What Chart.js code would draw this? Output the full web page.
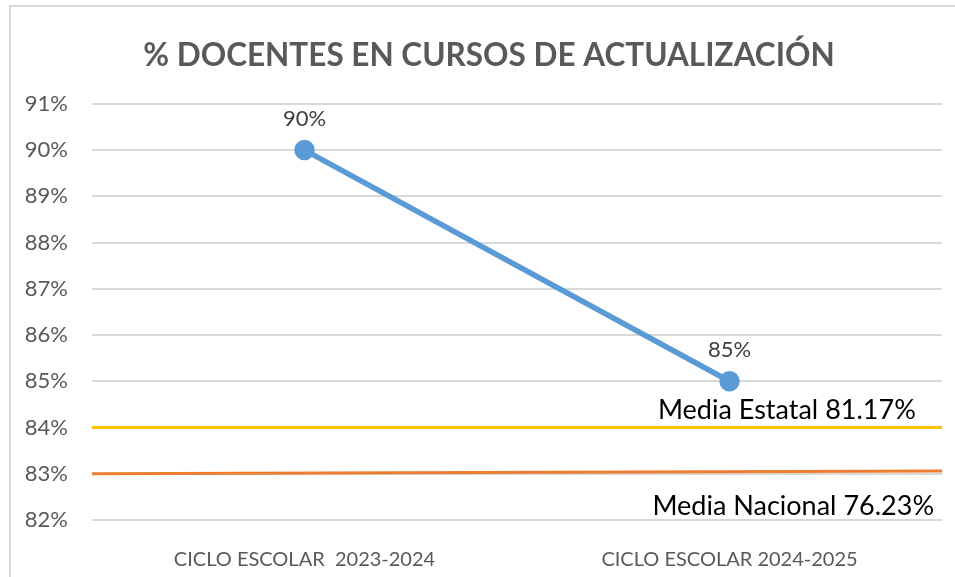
<!DOCTYPE html>
<html>
<head>
<meta charset="utf-8">
<script src="https://cdn.jsdelivr.net/npm/chart.js@4.4.1/dist/chart.umd.min.js"></script>
<style>
  html, body { margin: 0; padding: 0; background: #fff; }
  #wrap { position: relative; width: 955px; height: 577px; }
</style>
</head>
<body>
<div id="wrap"><canvas id="grafica" width="955" height="577"></canvas></div>
<script>
// Datos del gráfico
const categorias = ['CICLO ESCOLAR  2023-2024', 'CICLO ESCOLAR 2024-2025'];
const posCategorias = [0.5, 1.5];
const docentes = [90, 85];

// Líneas de referencia (de borde a borde del área)
const extremosX = [0, 2];
const lineaEstatal = [84, 84];
const lineaNacional = [83, 83.06];

// Textos de las medias
const textosMedias = ['Media Estatal 81.17%', 'Media Nacional 76.23%'];
const posTextosX = [1.635, 1.65];
const posTextosY = [84.37, 82.3];

const ticksY = [82, 83, 84, 85, 86, 87, 88, 89, 90, 91];

const FUENTE = 'Lato, "Open Sans", sans-serif';

// Borde gris del recuadro del gráfico (sólo arriba e izquierda se ven)
// y título centrado respecto al recuadro completo
const bordePlugin = {
    id: 'borde',
    afterLayout(chart) {
        chart.titleBlock.left = 35;
    },
    beforeDraw(chart) {
        const ctx = chart.ctx;
        ctx.save();
        ctx.strokeStyle = '#d9d9d9';
        ctx.lineWidth = 2;
        ctx.beginPath();
        ctx.moveTo(10, chart.height);
        ctx.lineTo(10, 6);
        ctx.lineTo(chart.width, 6);
        ctx.stroke();
        ctx.restore();
    }
};

// Etiquetas de valores y textos de las medias
const etiquetasPlugin = {
    id: 'etiquetas',
    afterDatasetsDraw(chart) {
        const ctx = chart.ctx;
        ctx.save();
        ctx.textAlign = 'center';
        ctx.textBaseline = 'middle';

        // valores de la serie azul
        ctx.font = '22px ' + FUENTE;
        ctx.fillStyle = '#404040';
        const meta = chart.getDatasetMeta(0);
        meta.data.forEach((pt, i) => {
            ctx.fillText(docentes[i] + '%', pt.x, pt.y - 31);
        });

        // textos de medias
        ctx.font = '27px ' + FUENTE;
        ctx.fillStyle = '#000000';
        textosMedias.forEach((t, i) => {
            const x = chart.scales.x.getPixelForValue(posTextosX[i]);
            const y = chart.scales.y.getPixelForValue(posTextosY[i]);
            ctx.fillText(t, x, y);
        });
        ctx.restore();
    }
};

const ctx = document.getElementById('grafica').getContext('2d');
new Chart(ctx, {
    type: 'line',
    data: {
        datasets: [
            {
                label: '% Docentes',
                data: docentes.map((v, i) => ({ x: posCategorias[i], y: v })),
                borderColor: '#5b9bd5',
                backgroundColor: '#5b9bd5',
                borderWidth: 5.5,
                pointRadius: 7.5,
                pointHoverRadius: 7.5,
                order: 0
            },
            {
                label: 'Media Estatal',
                data: lineaEstatal.map((v, i) => ({ x: extremosX[i], y: v })),
                borderColor: '#ffc000',
                borderWidth: 3,
                pointRadius: 0,
                order: 1
            },
            {
                label: 'Media Nacional',
                data: lineaNacional.map((v, i) => ({ x: extremosX[i], y: v })),
                borderColor: '#ed7d31',
                borderWidth: 3,
                pointRadius: 0,
                order: 1
            }
        ]
    },
    options: {
        responsive: false,
        animation: false,
        events: [],
        layout: { padding: { left: 0, right: 12, top: 0, bottom: 0 } },
        plugins: {
            legend: { display: false },
            tooltip: { enabled: false },
            title: {
                display: true,
                text: '% DOCENTES EN CURSOS DE ACTUALIZACIÓN',
                color: '#595959',
                font: { family: FUENTE, size: 31.5, weight: 'bold', lineHeight: 1.2 },
                padding: { top: 37, bottom: 29 }
            }
        },
        scales: {
            x: {
                type: 'linear',
                min: 0,
                max: 2,
                grid: { display: false },
                border: { display: false },
                afterBuildTicks(scale) {
                    scale.ticks = posCategorias.map(v => ({ value: v }));
                },
                afterFit(scale) { scale.height = 57; },
                ticks: {
                    autoSkip: false,
                    maxRotation: 0,
                    padding: 20,
                    color: '#595959',
                    font: { family: FUENTE, size: 20 },
                    callback(value) {
                        const i = posCategorias.indexOf(value);
                        return i >= 0 ? categorias[i] : '';
                    }
                }
            },
            y: {
                min: 82,
                max: 91,
                afterBuildTicks(scale) {
                    scale.ticks = ticksY.map(v => ({ value: v }));
                },
                afterFit(scale) { scale.width = 92; },
                grid: { color: '#d9d9d9', lineWidth: 2, drawTicks: false },
                border: { display: false },
                ticks: {
                    padding: 24,
                    color: '#595959',
                    font: { family: FUENTE, size: 22 },
                    callback: v => v + '%'
                }
            }
        }
    },
    plugins: [bordePlugin, etiquetasPlugin]
});
</script>
</body>
</html>
